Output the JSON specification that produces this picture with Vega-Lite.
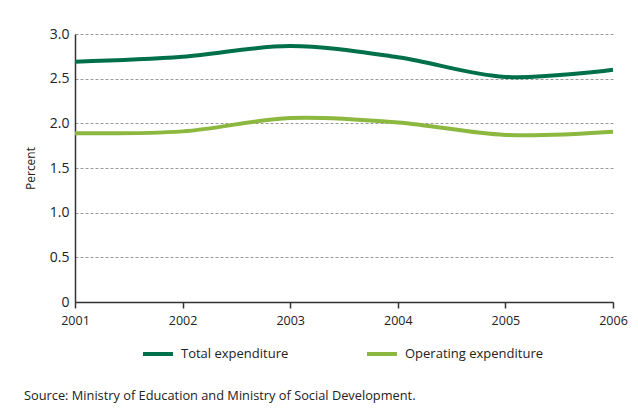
{
  "$schema": "https://vega.github.io/schema/vega-lite/v6.json",
  "width": 538,
  "height": 268,
  "autosize": {"type": "none"},
  "padding": {"left": 75, "top": 34, "right": 25, "bottom": 107},
  "background": "white",
  "config": {
    "font": "Open Sans",
    "view": {"stroke": null}
  },
  "title": {
    "text": "Source: Ministry of Education and Ministry of Social Development.",
    "orient": "bottom",
    "anchor": "start",
    "frame": "group",
    "dx": -51,
    "dy": -15,
    "offset": 43,
    "font": "Open Sans",
    "fontSize": 12.8,
    "fontWeight": "normal",
    "color": "#222222"
  },
  "data": {
    "values": [
      {"year": 2001, "series": "Total expenditure", "value": 2.69},
      {"year": 2002, "series": "Total expenditure", "value": 2.745},
      {"year": 2003, "series": "Total expenditure", "value": 2.865},
      {"year": 2004, "series": "Total expenditure", "value": 2.74},
      {"year": 2005, "series": "Total expenditure", "value": 2.52},
      {"year": 2006, "series": "Total expenditure", "value": 2.6},
      {"year": 2001, "series": "Operating expenditure", "value": 1.89},
      {"year": 2002, "series": "Operating expenditure", "value": 1.91},
      {"year": 2003, "series": "Operating expenditure", "value": 2.06},
      {"year": 2004, "series": "Operating expenditure", "value": 2.01},
      {"year": 2005, "series": "Operating expenditure", "value": 1.87},
      {"year": 2006, "series": "Operating expenditure", "value": 1.905}
    ]
  },
  "mark": {"type": "line", "interpolate": "catmull-rom", "strokeWidth": 4},
  "encoding": {
    "x": {
      "field": "year",
      "type": "quantitative",
      "scale": {"domain": [2001, 2006], "nice": false, "zero": false},
      "axis": {
        "title": null,
        "values": [2001, 2002, 2003, 2004, 2005, 2006],
        "format": "d",
        "grid": false,
        "domainColor": "#333333",
        "domainWidth": 1.5,
        "tickColor": "#333333",
        "tickWidth": 1.5,
        "tickSize": 6,
        "labelFontSize": 12.5,
        "labelColor": "#222222",
        "labelPadding": 6,
        "labelFlush": false
      }
    },
    "y": {
      "field": "value",
      "type": "quantitative",
      "scale": {"domain": [0, 3], "nice": false},
      "axis": {
        "title": "Percent",
        "titleFontSize": 12,
        "titleFontWeight": "normal",
        "titleColor": "#222222",
        "titlePadding": 12,
        "values": [0, 0.5, 1, 1.5, 2, 2.5, 3],
        "labelExpr": "datum.value == 0 ? '0' : format(datum.value, '.1f')",
        "ticks": false,
        "labelPadding": 6,
        "labelFontSize": 14,
        "labelColor": "#222222",
        "domainColor": "#333333",
        "domainWidth": 1.5,
        "grid": true,
        "gridColor": "#9a9a9a",
        "gridDash": [3, 2],
        "gridWidth": 1
      }
    },
    "color": {
      "field": "series",
      "type": "nominal",
      "sort": ["Total expenditure", "Operating expenditure"],
      "scale": {
        "domain": ["Total expenditure", "Operating expenditure"],
        "range": ["#00704a", "#8cb83f"]
      },
      "legend": {
        "title": null,
        "orient": "none",
        "direction": "horizontal",
        "legendX": 66,
        "legendY": 303,
        "symbolType": "stroke",
        "symbolSize": 900,
        "symbolStrokeWidth": 4,
        "labelFontSize": 13,
        "labelColor": "#222222",
        "labelOffset": 6,
        "columnPadding": 70
      }
    }
  }
}
